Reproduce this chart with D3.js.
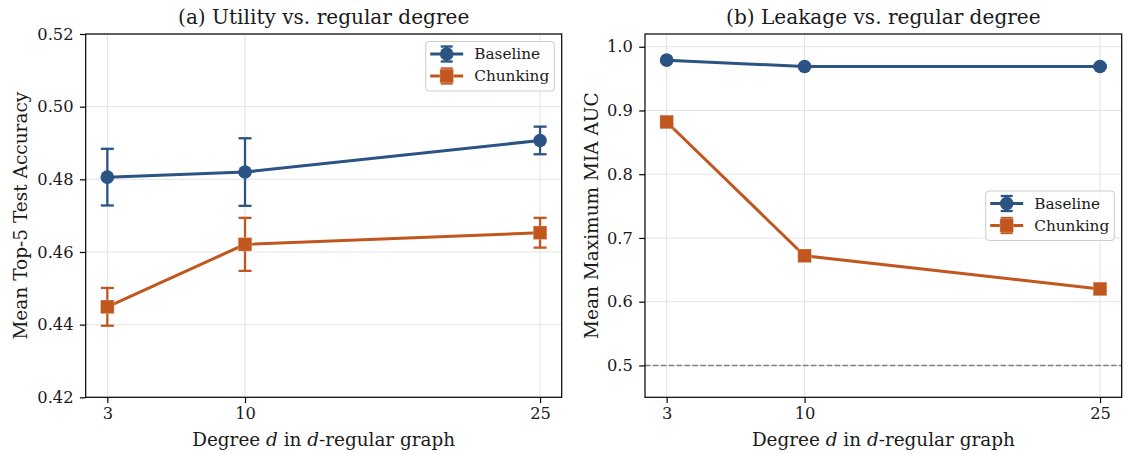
<!DOCTYPE html>
<html><head><meta charset="utf-8">
<script src="https://cdn.jsdelivr.net/npm/d3@7"></script>
<style>body{margin:0;background:#fff}svg{display:block}text{font-family:"DejaVu Serif",serif;fill:#1a1a1a}</style>
</head><body>
<svg id="c" width="1126" height="454"></svg>
<script>
// ---- data ----
const degrees = [3, 10, 25];
const utilBaseline = [0.4806, 0.4820, 0.4907];
const utilBaselineErr = [0.0078, 0.0093, 0.0038];
const utilChunking = [0.4449, 0.4621, 0.4653];
const utilChunkingErr = [0.0052, 0.0073, 0.0041];
const leakBaseline = [0.979, 0.969, 0.969];
const leakBaselineErr = [0.002, 0.002, 0.002];
const leakChunking = [0.882, 0.672, 0.620];
const leakChunkingErr = [0.002, 0.002, 0.002];
const utilTicks = [0.42, 0.44, 0.46, 0.48, 0.50, 0.52];
const leakTicks = [0.5, 0.6, 0.7, 0.8, 0.9, 1.0];
const seriesNames = ["Baseline", "Chunking"];
const colors = {Baseline: "#2b5384", Chunking: "#c1561f"};

const svg = d3.select("#c");
const H = {top: 34, bottom: 397.3};

function panel(o) {
  const g = svg.append("g");
  const x = d3.scaleLinear().domain([1.9, 26.1]).range([o.left, o.right]);
  const y = d3.scaleLinear().domain(o.ydom).range([H.bottom, H.top]);
  // grid
  g.append("g").selectAll("line").data(o.yticks).join("line")
    .attr("x1", o.left).attr("x2", o.right).attr("y1", d => y(d)).attr("y2", d => y(d))
    .attr("stroke", "#e3e3e3").attr("stroke-width", 1);
  g.append("g").selectAll("line").data(degrees).join("line")
    .attr("y1", H.top).attr("y2", H.bottom).attr("x1", d => x(d)).attr("x2", d => x(d))
    .attr("stroke", "#e3e3e3").attr("stroke-width", 1);
  if (o.refLine !== undefined) {
    g.append("line").attr("x1", o.left).attr("x2", o.right)
      .attr("y1", y(o.refLine)).attr("y2", y(o.refLine))
      .attr("stroke", "#808080").attr("stroke-width", 1.4).attr("stroke-dasharray", "5.5,2.4");
  }
  // axes
  const xa = g.append("g").attr("transform", `translate(0,${H.bottom})`)
    .call(d3.axisBottom(x).tickValues(degrees).tickFormat(d3.format("d")).tickSize(5.8).tickPadding(4.5));
  const ya = g.append("g").attr("transform", `translate(${o.left},0)`)
    .call(d3.axisLeft(y).tickValues(o.yticks).tickFormat(d3.format(o.fmt)).tickSize(5.8).tickPadding(6.3));
  [xa, ya].forEach(a => {
    a.select(".domain").remove();
    a.selectAll("line").attr("stroke", "#000").attr("stroke-width", 1.2);
    a.selectAll("text").style("font-family", '"DejaVu Serif",serif').style("font-size", "16.3px").attr("fill", "#1a1a1a");
  });
  // series
  o.series.forEach(s => {
    const c = colors[s.name];
    const pts = degrees.map((d, i) => ({d, v: s.v[i], e: s.e[i]}));
    const eb = g.append("g");
    pts.forEach(p => {
      eb.append("line").attr("x1", x(p.d)).attr("x2", x(p.d)).attr("y1", y(p.v - p.e)).attr("y2", y(p.v + p.e))
        .attr("stroke", c).attr("stroke-width", 2.3);
      [p.v - p.e, p.v + p.e].forEach(t => eb.append("line").attr("x1", x(p.d) - 6.5).attr("x2", x(p.d) + 6.5)
        .attr("y1", y(t)).attr("y2", y(t)).attr("stroke", c).attr("stroke-width", 2.3));
    });
    g.append("path").datum(pts).attr("fill", "none").attr("stroke", c).attr("stroke-width", 3)
      .attr("d", d3.line().x(p => x(p.d)).y(p => y(p.v)));
    pts.forEach(p => marker(g, s.name, x(p.d), y(p.v)));
  });
  // frame
  g.append("rect").attr("x", o.left).attr("y", H.top).attr("width", o.right - o.left).attr("height", H.bottom - H.top)
    .attr("fill", "none").attr("stroke", "#000").attr("stroke-width", 1.2);
  // title & labels
  const cx = (o.left + o.right) / 2;
  g.append("text").attr("x", cx).attr("y", 24).attr("text-anchor", "middle").style("font-size", "20.1px").text(o.title);
  const xl = g.append("text").attr("x", cx).attr("y", 445.5).attr("text-anchor", "middle").style("font-size", "18.4px");
  xl.append("tspan").text("Degree ");
  xl.append("tspan").style("font-style", "italic").text("d");
  xl.append("tspan").text(" in ");
  xl.append("tspan").style("font-style", "italic").text("d");
  xl.append("tspan").text("-regular graph");
  g.append("text").attr("transform", `translate(${o.ylabX},${(H.top + H.bottom) / 2}) rotate(-90)`)
    .attr("text-anchor", "middle").style("font-size", "18.5px").text(o.ylabel);
  // legend
  const lg = g.append("g").attr("transform", `translate(${o.leg[0]},${o.leg[1]})`);
  lg.append("rect").attr("width", 128.6).attr("height", 49.5).attr("rx", 3.5)
    .attr("fill", "#fff").attr("fill-opacity", 0.85).attr("stroke", "#d0d0d0").attr("stroke-width", 1.1);
  seriesNames.forEach((n, i) => {
    const c = colors[n], yy = 12.5 + i * 22;
    lg.append("line").attr("x1", 4.5).attr("x2", 37.5).attr("y1", yy).attr("y2", yy).attr("stroke", c).attr("stroke-width", 3);
    lg.append("line").attr("x1", 21).attr("x2", 21).attr("y1", yy - 7.5).attr("y2", yy + 7.5).attr("stroke", c).attr("stroke-width", 2.3);
    [yy - 7.5, yy + 7.5].forEach(t => lg.append("line").attr("x1", 15).attr("x2", 27).attr("y1", t).attr("y2", t).attr("stroke", c).attr("stroke-width", 2.3));
    marker(lg, n, 21, yy);
    lg.append("text").attr("x", 48.5).attr("y", yy + 5.4).style("font-size", "15.3px").text(n);
  });
}

function marker(g, name, cx, cy) {
  const c = colors[name];
  if (name === "Baseline") {
    g.append("circle").attr("cx", cx).attr("cy", cy).attr("r", 6.8).attr("fill", c);
  } else {
    g.append("rect").attr("x", cx - 6.8).attr("y", cy - 6.8).attr("width", 13.6).attr("height", 13.6)
      .attr("fill", c).attr("stroke", "#fff").attr("stroke-opacity", 0.25).attr("stroke-width", 1);
  }
}

panel({left: 85.7, right: 561.7, ydom: [0.42, 0.52], yticks: utilTicks, fmt: ".2f",
  title: "(a) Utility vs. regular degree", ylabel: "Mean Top-5 Test Accuracy", ylabX: 27.3, leg: [425.7, 41.5],
  series: [{name: "Baseline", v: utilBaseline, e: utilBaselineErr}, {name: "Chunking", v: utilChunking, e: utilChunkingErr}]});
panel({left: 645, right: 1121.7, ydom: [0.45, 1.02], yticks: leakTicks, fmt: ".1f", refLine: 0.5,
  title: "(b) Leakage vs. regular degree", ylabel: "Mean Maximum MIA AUC", ylabX: 597.5, leg: [985.7, 191],
  series: [{name: "Baseline", v: leakBaseline, e: leakBaselineErr}, {name: "Chunking", v: leakChunking, e: leakChunkingErr}]});
</script>
</body></html>
